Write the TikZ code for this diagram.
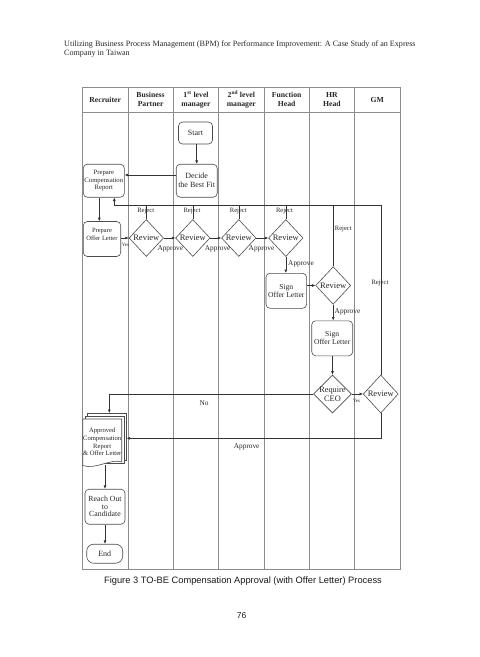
\documentclass[tikz,border=0pt]{standalone}
\usepackage{fontspec}
\setmainfont{Liberation Serif}
\newfontfamily\capfont{Liberation Sans}
\usetikzlibrary{shapes.geometric,arrows.meta}
\begin{document}
\begin{tikzpicture}[x=1pt,y=-1pt,
  lane/.style={draw=black!45,line width=0.6pt},
  proc/.style={draw=black!70,rounded corners=4pt,line width=0.6pt,align=center,inner sep=0pt,text=black!85},
  dec/.style={draw=black!70,diamond,line width=0.6pt,inner sep=0pt,minimum width=34.5pt,minimum height=37pt},
  dtext/.style={font=\fontsize{8.5}{9}\selectfont,text=black!85,inner sep=0pt},
  conn/.style={draw=black!80,line width=0.6pt},
  arr/.style={conn,-{Latex[length=3.5pt,width=3pt]}},
  lbl/.style={font=\fontsize{7.3}{8}\selectfont,text=black!85,inner sep=0pt},
  small/.style={font=\fontsize{6.6}{7}\selectfont,text=black!85,inner sep=0pt},
  tiny/.style={font=\fontsize{5}{6}\selectfont,text=black!85,inner sep=0pt},
  hdr/.style={font=\bfseries\fontsize{7.7}{9}\selectfont,align=center,text=black!85,inner sep=0pt},
  docline/.style={draw=black!70,line width=0.6pt,fill=white}
]
\useasboundingbox (0,0) rectangle (480,657);

% title
\node[anchor=north west,align=left,inner sep=0pt,font=\fontsize{8.1}{9.4}\selectfont,text=black!85] (title) at (64,40.3)
 {Utilizing Business Process Management (BPM) for Performance Improvement: A Case Study of an Express\\Company in Taiwan};

% table
\draw[lane] (82.5,87.5) rectangle (400,569);
\draw[lane] (82.5,112.3) -- (400,112.3);
\foreach \x in {127.9,173.3,218.6,264,309.4,354.7} \draw[lane] (\x,87.5) -- (\x,569);

\node[hdr] (h1) at (105.2,99.8) {Recruiter};
\node[hdr] (h2) at (150.6,99.8) {Business\\Partner};
\node[hdr] (h3) at (196,99.8) {1\textsuperscript{st} level\\manager};
\node[hdr] (h4) at (241.3,99.8) {2\textsuperscript{nd} level\\manager};
\node[hdr] (h5) at (286.7,99.8) {Function\\Head};
\node[hdr] (h6) at (332,99.8) {HR\\Head};
\node[hdr] (h7) at (377.3,99.8) {GM};

% nodes
\node[proc,minimum width=34pt,minimum height=22pt,font=\fontsize{8}{9}\selectfont] (start) at (195.5,133) {Start};
\node[proc,minimum width=41pt,minimum height=33pt,font=\fontsize{8}{9}\selectfont] (decide) at (196.7,180.7) {Decide\\the Best Fit};
\node[proc,minimum width=41pt,minimum height=33pt,font=\fontsize{6.7}{7.7}\selectfont] (prepcomp) at (103.8,180.7) {Prepare\\Compensation\\Report};
\node[proc,minimum width=37.4pt,minimum height=35pt,font=\fontsize{6.5}{7.6}\selectfont] (prepoffer) at (102,239) {Prepare\\Offer Letter\\[2pt]};

\node[dec,label={[dtext]center:Review}] (r1) at (146.3,238) {};
\node[dec,label={[dtext]center:Review}] (r2) at (192.8,238) {};
\node[dec,label={[dtext]center:Review}] (r3) at (238.8,238) {};
\node[dec,label={[dtext]center:Review}] (r4) at (285.8,238) {};

\node[proc,minimum width=40.7pt,minimum height=35pt,font=\fontsize{7.6}{8.4}\selectfont] (signfh) at (286.3,290.8) {Sign\\Offer Letter};
\node[dec,minimum width=35pt,minimum height=37.6pt,label={[dtext]center:Review}] (rhr) at (333.2,285.5) {};
\node[proc,minimum width=41pt,minimum height=35pt,font=\fontsize{7.6}{8.4}\selectfont] (signhr) at (332.2,338.3) {Sign\\Offer Letter};
\node[dec,minimum width=38pt,minimum height=38pt,label={[dtext,align=center,font=\fontsize{8.3}{8.8}\selectfont]center:Require\\CEO}] (ceo) at (332.5,394) {};
\node[dec,minimum width=35pt,minimum height=38pt,label={[dtext]center:Review}] (rgm) at (380.8,394) {};

% multi-document
\draw[docline] (87.7,413) rectangle (126.7,460);
\draw[docline] (85.2,416) rectangle (124.2,463);
\draw[docline] (82.7,419) -- (121.7,419) -- (121.7,462) .. controls (111,458) and (96,470) .. (82.7,465.5) -- cycle;
\node[inner sep=0pt,minimum width=39pt,minimum height=46pt,align=center,font=\fontsize{6.6}{7.6}\selectfont,text=black!85] (doc) at (102.2,442) {Approved\\Compensation\\Report\\\& Offer Letter};
\coordinate (doctop) at (109.3,413);
\coordinate (docright) at (126.7,438.3);

\node[proc,minimum width=40pt,minimum height=35pt,font=\fontsize{7.8}{7.6}\selectfont] (reach) at (105,506.7) {Reach Out\\to\\Candidate};
\node[proc,rounded corners=7pt,minimum width=36pt,minimum height=19pt,font=\fontsize{8}{8}\selectfont] (end) at (104.7,553.7) {End};

% connectors
\draw[arr] (start.south -| decide.north) -- (decide.north);
\draw[arr] ([yshift=5.7pt]decide.west) -- ([yshift=5.7pt]prepcomp.east);
\draw[arr] ([xshift=-4.5pt]prepcomp.south) -- ([xshift=-4.5pt]prepcomp.south |- prepoffer.north);
\draw[arr] (prepoffer.east |- r1.west) -- (r1.west);
\draw[arr] (r1.east) -- (r2.west);
\draw[arr] (r2.east) -- (r3.west);
\draw[arr] (r3.east) -- (r4.west);
\draw[arr] (r4.south) -- (r4.south |- signfh.north);
\draw[arr] (signfh.east |- rhr.west) -- (rhr.west);
\draw[arr] (rhr.south) -- (rhr.south |- signhr.north);
\draw[arr] (signhr.south -| ceo.north) -- (ceo.north);
\draw[arr] (ceo.east) -- (rgm.west);
\draw[arr] (ceo.west) -- (ceo.west -| doctop) -- (doctop);
\draw[arr] (rgm.south) -- (rgm.south |- docright) -- (docright);
\draw[arr] (doc.south -| reach.north) -- (reach.north);
\draw[arr] (reach.south) -- (reach.south |- end.north);

% feedback (reject) line
\coordinate (fbR) at (381,205.7);
\coordinate (fbL) at (114.3,205.7);
\draw[arr] (rgm.north) -- (rgm.north |- fbR) -- (fbL) -- (fbL |- prepcomp.south);
\foreach \n in {r1,r2,r3,r4,rhr} \draw[conn] (\n.north) -- (\n.north |- fbL);

% labels
\node[small] (rj1) at (145.7,211.2) {Reject};
\node[small] (rj2) at (192,211.2) {Reject};
\node[small] (rj3) at (238.3,210.7) {Reject};
\node[small] (rj4) at (284.5,210.7) {Reject};
\node[small] (rj5) at (343.3,229) {Reject};
\node[small] (rj6) at (380,283.3) {Reject};
\node[tiny] (y1) at (125.5,244.5) {Yes};
\node[lbl] (a1) at (170.3,249) {Approve};
\node[lbl] (a2) at (217.7,248.7) {Approve};
\node[lbl] (a3) at (261.5,249) {Approve};
\node[lbl] (a4) at (301,264.3) {Approve};
\node[lbl] (a5) at (347.5,312.3) {Approve};
\node[tiny] (y2) at (356.5,401) {Yes};
\node[lbl] (no) at (204,403.3) {No};
\node[lbl] (a6) at (246.7,446.7) {Approve};

% caption
\node[font=\capfont\fontsize{9.3}{11}\selectfont,text=black!90,inner sep=0pt] (cap) at (243,580.7) {Figure 3 TO-BE Compensation Approval (with Offer Letter) Process};
\node[font=\capfont\fontsize{8.5}{10}\selectfont,text=black!90,inner sep=0pt] (pg) at (241.7,615.7) {76};
\end{tikzpicture}
\end{document}
